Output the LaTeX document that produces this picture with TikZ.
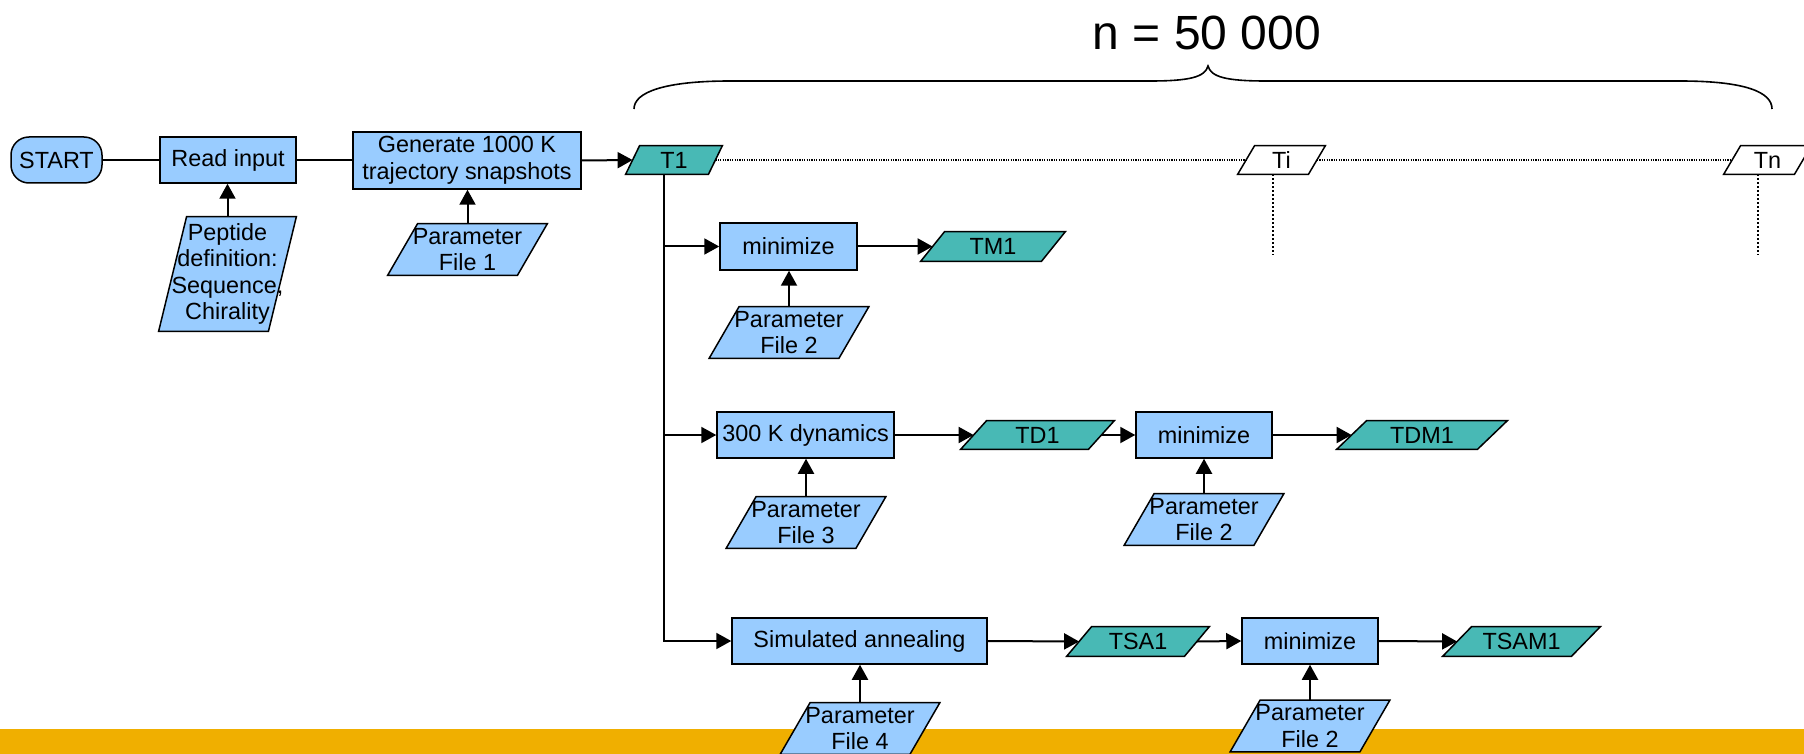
\documentclass[tikz,border=0pt]{standalone}
\usepackage{fontspec}
\setmainfont{Liberation Sans}
\usetikzlibrary{arrows.meta,backgrounds}
\definecolor{procblue}{RGB}{153,204,255}
\definecolor{datateal}{RGB}{72,185,181}
\definecolor{barorange}{RGB}{240,175,0}
\begin{document}
\begin{tikzpicture}[x=0.5pt,y=-0.5pt,
  every node/.style={font=\fontsize{11.7}{13.3}\selectfont, inner sep=0pt, align=center},
  proc/.style={draw, fill=procblue, line width=0.75pt},
  term/.style={proc, rounded corners=9pt},
  io/.style={},
  sz/.style 2 args={minimum width=#1pt, minimum height=#2pt},
  pfile/.style={io, sz={79.5}{25.5}},
  link/.style={line width=1pt},
  arr/.style={link, -{Triangle[length=7.5pt,width=8pt]}},
  hdots/.style={line width=0.6pt, dash pattern=on 0.6pt off 0.6pt},
  vdots/.style={line width=1pt, dash pattern=on 1pt off 1pt}
]
\useasboundingbox (0,0) rectangle (1804,754);

% ---- preparation chain ----
\node[term, sz={45.5}{23}] (start) at (56.5,160) {START};
\node[proc, sz={68}{23}] (read) at (228,160) {Read input};
\node[proc, sz={114}{28.5}] (gen) at (467,160.5) {Generate 1000 K\\trajectory snapshots};
\node[io, sz={68.5}{57}] (pep) at (227.5,274) {Peptide\\definition:\\Sequence,\\Chirality};
\node[pfile] (pf1) at (467.5,249.5) {Parameter\\File 1};

% ---- snapshots ----
\node[io, sz={48}{14}] (t1) at (674,160) {T1};
\node[io, sz={43.5}{14}] (ti) at (1281.5,160) {Ti};
\node[io, sz={43.5}{14}] (tn) at (1767.5,160) {Tn};
\node[font=\fontsize{24}{28}\selectfont] (count) at (1207,33) {n = 50 000};

% ---- branch 1: minimization ----
\node[proc, sz={68.5}{23.5}] (min1) at (788.5,246.5) {minimize};
\node[io, sz={72}{14.5}] (tm1) at (993,246.5) {TM1};
\node[pfile] (pf2a) at (789,332.5) {Parameter\\File 2};

% ---- branch 2: dynamics + minimization ----
\node[proc, sz={88.5}{23}] (dyn) at (805.5,435) {300 K dynamics};
\node[io, sz={76.5}{14}] (td1) at (1037.5,435) {TD1};
\node[proc, sz={68}{23}] (min2) at (1204,435) {minimize};
\node[io, sz={85}{14}] (tdm1) at (1422,435) {TDM1};
\node[pfile] (pf3) at (806,522.5) {Parameter\\File 3};
\node[pfile] (pf2b) at (1204,519.5) {Parameter\\File 2};

% ---- branch 3: annealing + minimization ----
\node[proc, sz={127.5}{23}] (sa) at (859.5,641) {Simulated annealing};
\node[io, sz={71}{14.5}] (tsa1) at (1138,641.5) {TSA1};
\node[proc, sz={68}{23}] (min3) at (1310,641) {minimize};
\node[io, sz={78.5}{14.5}] (tsam1) at (1521.5,641.5) {TSAM1};
\node[pfile] (pf4) at (860,728.5) {Parameter\\File 4};
\node[pfile] (pf2c) at (1310,726) {Parameter\\File 2};

% ---- connectors ----
\draw[link] (start.east) -- (read.west);
\draw[link] (read.east) -- (read.east -| gen.west);
\draw[arr] (gen.east) -- ([xshift=3.5pt]t1.west);
\draw[arr] (pep.north) -- (pep.north |- read.south);
\draw[arr] (pf1.north) -- (pf1.north |- gen.south);

\coordinate (trunk) at ([xshift=-5pt]t1.south);
\draw[arr] (trunk) |- (min1.west);
\draw[arr] (trunk) |- (dyn.west);
\draw[arr] (trunk) |- (sa.west);

\draw[arr] (min1.east) -- ([xshift=6pt]tm1.west);
\draw[arr] (pf2a.north) -- (pf2a.north |- min1.south);

\draw[arr] (dyn.east) -- ([xshift=6.5pt]td1.west);
\draw[arr] ([xshift=-6.5pt]td1.east) -- (min2.west);
\draw[arr] (min2.east) -- ([xshift=7.5pt]tdm1.west);
\draw[arr] (pf3.north) -- (pf3.north |- dyn.south);
\draw[arr] (pf2b.north) -- (pf2b.north |- min2.south);

\draw[arr] (sa.east) -- ([xshift=6.25pt]tsa1.west);
\draw[arr] ([xshift=-6.25pt]tsa1.east) -- (min3.west);
\draw[arr] (min3.east) -- ([xshift=7.25pt]tsam1.west);
\draw[arr] (pf4.north) -- (pf4.north |- sa.south);
\draw[arr] (pf2c.north) -- (pf2c.north |- min3.south);

% ---- elided snapshots ----
\draw[hdots] ([xshift=-3.5pt]t1.east) -- ([xshift=4.25pt]ti.west);
\draw[hdots] ([xshift=-4.25pt]ti.east) -- ([xshift=4.25pt]tn.west);
\coordinate (tiend) at (1273,255);
\coordinate (tnend) at (1758,255);
\draw[vdots] (ti.south -| tiend) -- (tiend);
\draw[vdots] (tn.south -| tnend) -- (tnend);

% ---- brace over the snapshot range ----
\draw[line width=0.8pt] (634,109) .. controls (634,92) and (665,81) .. (730,81) -- (1150,81)
  .. controls (1190,81) and (1205,77) .. (1208,66)
  .. controls (1211,77) and (1226,81) .. (1266,81) -- (1680,81)
  .. controls (1745,81) and (1772,92) .. (1772,109);

% ---- backgrounds and data (parallelogram) shapes ----
\begin{scope}[on background layer]
  \fill[white] (0,0) rectangle (1804,754);
  \fill[barorange] (0,729) rectangle (1804,754);
  \foreach \n/\s/\c in {pep/14/procblue, pf1/15/procblue, pf2a/15/procblue,
      pf3/15/procblue, pf2b/15/procblue, pf4/15/procblue, pf2c/15/procblue,
      t1/7/datateal, tm1/12/datateal, td1/13/datateal, tdm1/15/datateal,
      tsa1/12.5/datateal, tsam1/14.5/datateal, ti/8.5/white, tn/8.5/white}
    \filldraw[fill=\c, line width=0.75pt] ([xshift=\s pt]\n.north west) -- (\n.north east)
      -- ([xshift=-\s pt]\n.south east) -- (\n.south west) -- cycle;
\end{scope}
\end{tikzpicture}
\end{document}
